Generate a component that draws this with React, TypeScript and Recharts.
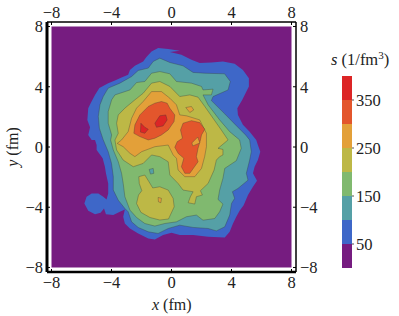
import React from "react";
import { ScatterChart, Scatter, XAxis, YAxis, BarChart, Bar } from "recharts";

type P = [number, number];
const field: P[] = [[-8, 8], [8, 8], [8, -8], [-8, -8]];
const level50: P[] = [[0.55,6.39],[-0.22,6.5],[-0.89,6.57],[-1.33,6.34],[-1.67,5.97],[-1.89,5.68],[-2.44,5.39],[-2.77,5.12],[-2.89,4.79],[-3.33,4.61],[-3.77,4.42],[-4.22,4.24],[-4.81,3.91],[-5.1,3.46],[-5.39,2.91],[-5.55,2.57],[-5.61,1.8],[-5.43,1.31],[-5.55,0.8],[-5.32,0.47],[-5.1,0.46],[-4.99,0.13],[-4.99,-0.2],[-4.59,-0.75],[-4.44,-1.31],[-4.37,-1.75],[-4.22,-2.42],[-4.22,-3.08],[-4.33,-3.48],[-4.55,-3.3],[-4.88,-3.08],[-5.32,-3.08],[-5.66,-3.3],[-5.81,-3.75],[-5.55,-4.23],[-5.1,-4.46],[-4.73,-4.37],[-4.5,-4.08],[-4.37,-4.46],[-3.88,-4.52],[-3.44,-4.3],[-3.11,-4.15],[-3.22,-4.63],[-3.11,-5.08],[-2.77,-5.41],[-2.22,-5.74],[-1.55,-6.07],[-1.11,-6.14],[-0.56,-5.85],[0,-5.7],[0.55,-5.85],[1.44,-5.85],[2.44,-5.96],[3.55,-6.01],[3.88,-5.63],[4.1,-5.08],[4.32,-4.63],[4.54,-4.23],[4.81,-3.86],[5.1,-3.19],[5.43,-2.64],[5.7,-2.24],[5.43,-1.75],[5.54,-1.31],[5.76,-0.87],[5.92,-0.31],[5.76,0.13],[5.65,0.47],[5.21,1.02],[4.76,1.47],[4.43,2.13],[4.39,2.57],[4.72,3.13],[5.16,4.02],[5.16,4.57],[4.76,5.12],[4.21,5.52],[3.43,5.68],[2.66,5.61],[1.88,5.57],[1.33,5.79],[0.66,6.12],[-0.11,6.3]];
const level100: P[] = [[-0.11,5.61],[0.77,5.39],[1.44,4.95],[2.21,4.9],[3.54,4.86],[3.92,4.35],[3.77,3.79],[2.77,3.35],[2.66,3.08],[3.55,2.2],[4.21,1.53],[4.94,0.8],[5.21,0.47],[5.32,-0.31],[5.21,-0.87],[4.99,-1.75],[5.1,-2.2],[4.43,-2.75],[4.06,-2.97],[4.21,-3.41],[4.0,-3.75],[3.88,-4.52],[3.55,-5.3],[2.99,-5.57],[2.44,-5.41],[1.44,-5.34],[0.55,-5.19],[-0.22,-5.41],[-0.89,-5.74],[-1.55,-5.63],[-2.22,-5.34],[-2.66,-4.97],[-2.89,-4.3],[-3.11,-4.08],[-3.55,-3.53],[-3.88,-2.86],[-3.88,-1.97],[-4.0,-1.09],[-4.22,-0.31],[-4.55,0.47],[-4.81,1.25],[-4.88,2.02],[-4.77,2.8],[-4.55,3.35],[-4.22,3.91],[-3.44,4.24],[-2.66,4.68],[-2.22,5.08],[-1.55,5.24],[-1.22,5.68],[-0.78,5.9]];
const level150: P[] = [[-0.11,4.86],[0.33,4.35],[1.33,4.24],[2.0,4.02],[2.1,3.79],[2.77,3.84],[2.66,3.46],[2.1,3.46],[2.44,2.8],[3.21,1.8],[3.88,1.02],[4.54,0.47],[4.65,-0.09],[4.32,-0.91],[3.55,-1.42],[3.43,-2.08],[3.21,-2.86],[3.1,-3.48],[3.43,-3.79],[3.21,-4.3],[2.88,-4.75],[2.1,-4.86],[1.66,-4.52],[1.0,-4.63],[0.33,-4.97],[-0.45,-5.08],[-1.11,-5.25],[-1.78,-5.08],[-2.33,-4.68],[-2.77,-4.19],[-3.11,-3.3],[-3.22,-2.42],[-3.33,-1.75],[-3.55,-0.98],[-3.88,-0.2],[-4.06,0.46],[-3.99,0.8],[-4.22,1.58],[-4.22,2.35],[-3.99,3.13],[-3.77,3.46],[-2.77,3.79],[-2.33,4.28],[-1.78,4.35],[-1.33,4.9],[-0.78,5.01]];
const level200: P[] = [[-0.78,4.35],[-0.11,4.02],[0.55,3.35],[1.22,3.46],[1.77,3.31],[2.22,2.69],[2.77,1.91],[3.32,1.13],[3.77,0.47],[3.1,-0.09],[3.43,-0.16],[3.43,-0.53],[3.21,-0.64],[2.99,-0.87],[2.84,-1.53],[2.44,-2.42],[1.93,-2.9],[2.06,-3.19],[1.66,-3.3],[1.55,-3.79],[1.11,-3.7],[1.26,-3.3],[1.44,-2.97],[0.77,-2.86],[0.44,-2.42],[-0.11,-1.86],[-0.22,-0.98],[-0.78,-0.64],[-1.33,-0.53],[-1.89,-1.09],[-2.55,-1.31],[-3.22,-0.87],[-3.66,-0.2],[-3.77,0.46],[-3.55,0.91],[-3.66,1.58],[-3.55,2.13],[-3.11,2.58],[-2.44,3.13],[-1.89,3.57],[-1.33,4.24]];
const level200Lobe: P[] = [[-2.18,-1.97],[-1.78,-1.86],[-1.5,-2.31],[-1.25,-2.72],[-0.78,-2.64],[-0.22,-2.86],[0.11,-3.41],[0.18,-3.97],[-0.2,-4.78],[-0.78,-4.85],[-1.44,-4.68],[-2.04,-4.34],[-2.33,-3.75],[-2.2,-3.19],[-1.98,-2.9],[-2.15,-2.42]];
const level250: P[] = [[-0.67,3.68],[-1.33,3.68],[-1.89,3.02],[-2.33,2.58],[-2.66,1.91],[-2.89,1.02],[-3.33,0.47],[-3.62,0.24],[-3.22,0.02],[-2.77,-0.42],[-2.44,-0.64],[-1.99,-0.31],[-1.11,0.02],[-0.22,0.13],[0.11,-0.53],[0.33,-0.75],[0.44,-1.53],[0.89,-1.97],[1.55,-1.97],[2.0,-1.42],[2.21,-0.64],[2.33,0.02],[2.33,0.91],[1.88,1.8],[1.0,2.07],[0.55,2.13],[0.33,2.8],[-0.11,3.24]];
const level250Bit: P[] = [[0.95,2.62],[1.33,2.69],[1.48,2.46],[1.22,2.29]];
const level250Spot: P[] = [[-0.89,-3.35],[-0.67,-3.41],[-0.71,-3.7],[-0.87,-3.64]];
const level100Spot: P[] = [[-1.49,-1.49],[-1.22,-1.42],[-1.18,-1.75],[-1.4,-1.8]];
const level300A: P[] = [[-0.67,3.02],[-1.11,2.91],[-1.55,2.69],[-2.11,2.13],[-2.44,1.47],[-2.51,0.91],[-2.11,0.69],[-1.55,0.47],[-1.11,0.58],[-0.67,0.8],[-0.22,1.13],[0.17,1.69],[0.22,2.13],[-0.11,2.57],[-0.29,2.91]];
const level300B: P[] = [[1.33,1.75],[1.88,1.62],[2.22,1.18],[2.0,0.8],[1.93,0.47],[1.77,-0.09],[1.66,-0.64],[1.77,-0.98],[1.22,-1.75],[0.89,-1.75],[0.66,-1.31],[0.82,-0.75],[0.44,-0.42],[0.22,-0.02],[0.38,0.35],[0.73,0.58],[0.6,1.13],[0.77,1.58]];
const hole250: P[] = [[1.36,0.27],[1.75,0.66],[1.89,0.27],[1.42,0.07]];
const level350A: P[] = [[-2.04,1.58],[-1.78,1.31],[-1.55,1.18],[-1.78,0.91],[-2.07,0.99]];
const level350B: P[] = [[-1.11,1.58],[-0.78,2.07],[-0.38,2.13],[-0.29,1.8],[-0.56,1.4],[-1.0,1.31]];

const PURPLE = "#761c80", BLUE = "#3e67c8", TEAL = "#55a0a6", GREEN = "#80b96f", OLIVE = "#bdb846", ORANGE = "#e3a039", RORANGE = "#e3562c", RED = "#dc2526";
const bands: [string, P[], string][] = [
  ["field", field, PURPLE],
  ["l50", level50, BLUE],
  ["l100", level100, TEAL],
  ["l150", level150, GREEN],
  ["s100", level100Spot, TEAL],
  ["l200", level200, OLIVE],
  ["l200b", level200Lobe, OLIVE],
  ["l250", level250, ORANGE],
  ["b250", level250Bit, ORANGE],
  ["s250", level250Spot, ORANGE],
  ["l300a", level300A, RORANGE],
  ["l300b", level300B, RORANGE],
  ["h250", hole250, ORANGE],
  ["l350a", level350A, RED],
  ["l350b", level350B, RED],
];

const axisTicks = [-8, -4, 0, 4, 8];
const barTicks = [50, 150, 250, 350];
const barSteps = ["s0", "s1", "s2", "s3", "s4", "s5", "s6", "s7"];
const barColors = [PURPLE, BLUE, TEAL, GREEN, OLIVE, ORANGE, RORANGE, RED];
const barRow: Record<string, number | string> = { name: "s" };
barSteps.forEach((k) => { barRow[k] = 50; });

const FONT = "'Liberation Serif', serif";
const tickStyle = { fontFamily: FONT, fontSize: 16.5, fill: "#222" };
const barTickStyle = { fontFamily: FONT, fontSize: 16.5, fill: "#222" };
const fmt = (v: number) => String(v).replace("-", "\u2212");
const noShape = () => <g />;

export default function App() {
  return (
    <div style={{ position: "absolute", left: 0, top: 0, width: 399, height: 316, background: "#fff" }}>
      <ScatterChart width={399} height={316} margin={{ top: 0, left: 0, right: 0, bottom: 0 }}>
        <XAxis xAxisId="b" type="number" dataKey="x" orientation="bottom" height={44} domain={[-8.3, 8.3]} ticks={axisTicks} tickFormatter={fmt} interval={0} allowDataOverflow tick={tickStyle} tickSize={-3} tickMargin={7} axisLine={{ stroke: "#000", strokeWidth: 2.5 }} tickLine={{ stroke: "#000", strokeWidth: 1 }} />
        <XAxis xAxisId="t" type="number" dataKey="x" orientation="top" height={22} domain={[-8.3, 8.3]} ticks={axisTicks} tickFormatter={fmt} interval={0} allowDataOverflow tick={tickStyle} tickSize={-3} tickMargin={7} axisLine={{ stroke: "#000", strokeWidth: 1.5 }} tickLine={{ stroke: "#000", strokeWidth: 1 }} />
        <YAxis yAxisId="l" type="number" dataKey="y" orientation="left" width={47} domain={[-8.3, 8.3]} ticks={axisTicks} tickFormatter={fmt} interval={0} allowDataOverflow tick={tickStyle} tickSize={-3} tickMargin={7} axisLine={{ stroke: "#000", strokeWidth: 3 }} tickLine={{ stroke: "#000", strokeWidth: 1 }} />
        <YAxis yAxisId="r" type="number" dataKey="y" orientation="right" width={103} domain={[-8.3, 8.3]} ticks={axisTicks} tickFormatter={fmt} interval={0} allowDataOverflow tick={tickStyle} tickSize={-3} tickMargin={7} axisLine={{ stroke: "#000", strokeWidth: 1.5 }} tickLine={{ stroke: "#000", strokeWidth: 1 }} />
        {bands.map(([key, pts, color]) => (
          <Scatter
            key={key}
            xAxisId="b"
            yAxisId="l"
            data={[...pts, pts[0]].map(([x, y]) => ({ x, y }))}
            isAnimationActive={false}
            shape={noShape}
            line={{ fill: color, stroke: key === "field" || key === "l50" ? "none" : "#333", strokeWidth: 0.6, strokeOpacity: 0.55 }}
          />
        ))}
        <text x={257} y={251} fontFamily={FONT} fontSize={18} fill="#111">(a)</text>
        <text x={152} y={310} fontFamily={FONT} fontSize={16} fill="#222"><tspan fontStyle="italic">x</tspan> (fm)</text>
        <text x={18} y={147} textAnchor="middle" transform="rotate(-90 18 147)" fontFamily={FONT} fontSize={16} fill="#222"><tspan fontStyle="italic">y</tspan> (fm)</text>
        <text x={331} y={65} fontFamily={FONT} fontSize={16.5} fill="#222"><tspan fontStyle="italic">s</tspan> (1/fm<tspan fontSize={11} dy={-6}>3</tspan><tspan dy={6}>)</tspan></text>
      </ScatterChart>
      <div style={{ position: "absolute", left: 342, top: 76, width: 57, height: 192 }}>
        <BarChart width={57} height={192} data={[barRow]} margin={{ top: 0, left: 0, right: 0, bottom: 0 }} barCategoryGap={0}>
          <XAxis dataKey="name" hide />
          <YAxis orientation="right" width={47} type="number" domain={[0, 400]} ticks={barTicks} interval={0} axisLine={false} tick={barTickStyle} tickSize={2} tickMargin={2} tickLine={{ stroke: "#555" }} />
          {barSteps.map((k, i) => (
            <Bar key={k} dataKey={k} stackId="s" fill={barColors[i]} isAnimationActive={false} />
          ))}
        </BarChart>
      </div>
    </div>
  );
}
